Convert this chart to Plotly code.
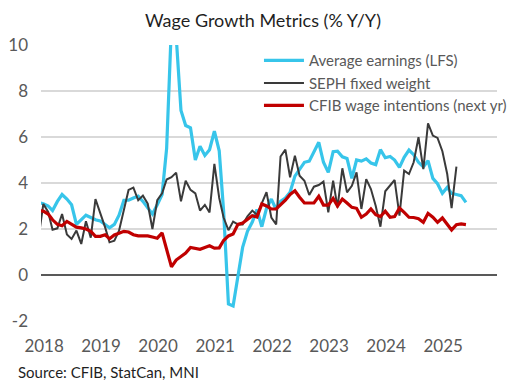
import pandas as pd
import plotly.graph_objects as go

# ---------------- data ----------------
title_text = "Wage Growth Metrics (% Y/Y)"
source_text = "Source: CFIB, StatCan, MNI"
series_names = ["Average earnings (LFS)", "SEPH fixed weight", "CFIB wage intentions (next yr)"]

first_month = "2017-12-01"   # monthly observations, plotted mid-month

lfs_earnings = [
    3.15,
    3.1, 3.0, 2.8, 3.2, 3.5, 3.3, 3.05, 2.2, 2.4, 2.6, 2.5, 2.4,
    2.35, 2.2, 2.05, 2.2, 2.6, 3.25, 3.25, 3.35, 3.43, 3.2, 2.9, 2.65,
    3.05, 3.5, 5.5, 10.9, 10.4, 7.15, 6.5, 6.4, 5.0, 5.6, 5.2, 5.45,
    6.25, 5.4, 2.8, -1.26, -1.35, -0.1, 1.2, 1.9, 2.3, 2.85, 2.1, 2.9,
    3.3, 2.85, 3.2, 3.35, 3.6, 4.3, 4.6, 4.9, 4.95, 5.35, 5.77, 4.9,
    4.46, 5.36, 5.38, 5.14, 5.07, 4.2, 5.0, 4.95, 5.05, 4.87, 4.8, 5.45,
    5.1, 5.15, 5.0, 4.68, 5.12, 5.43, 5.23, 4.9, 4.7, 4.97, 4.2, 3.97,
    3.55, 3.81, 3.55, 3.5, 3.45, 3.16,
]

seph_fixed = [
    1.6,
    3.09, 2.74, 1.97, 2.03, 2.65, 1.76, 1.57, 1.93, 1.35, 2.34, 1.62, 3.3,
    2.7, 2.07, 1.42, 1.49, 1.93, 2.9, 3.7, 3.8, 3.25, 3.45, 3.1, 2.0,
    3.25, 3.55, 4.15, 4.25, 4.45, 3.2, 4.1, 3.7, 3.55, 2.8, 3.05, 2.72,
    4.83, 3.35, 2.5, 1.95, 2.32, 2.2, 2.2, 2.55, 2.8, 2.62, 3.1, 3.6,
    2.5, 2.2, 5.15, 5.45, 4.25, 5.19, 4.32, 4.1, 3.48, 3.84, 3.91, 4.06,
    2.72, 4.1, 2.94, 4.64, 3.59, 3.88, 4.46, 2.87, 4.17, 3.74, 3.0, 2.1,
    3.64, 3.88, 4.13, 2.58, 4.54, 4.39, 4.9, 5.99, 4.6, 6.59, 6.06, 5.96,
    5.38, 4.39, 2.91, 4.71,
]

cfib_intentions = [
    2.8,
    2.78, 2.65, 2.4, 2.2, 2.14, 2.33, 2.2, 2.08, 2.05, 2.0, 1.9, 1.68,
    1.68, 1.75, 1.58, 1.74, 1.82, 1.9, 1.87, 1.75, 1.7, 1.7, 1.7, 1.65,
    1.6, 1.83, 1.1, 0.35, 0.65, 0.8, 0.95, 1.2, 1.15, 1.12, 1.2, 1.27,
    1.17, 1.18, 1.5, 1.7, 1.78, 2.2, 2.26, 2.43, 2.58, 2.52, 3.09, 3.0,
    2.87, 2.87, 3.05, 3.25, 3.5, 3.66, 3.38, 3.13, 3.13, 3.13, 3.42, 3.04,
    3.04, 3.33, 3.0, 3.3, 3.13, 2.94, 2.9, 2.51, 2.65, 2.87, 2.62, 2.54,
    2.77, 2.51, 2.54, 2.91, 2.72, 2.51, 2.5, 2.45, 2.29, 2.68, 2.51, 2.29,
    2.48, 2.19, 1.96, 2.19, 2.22, 2.19,
]

year_ticks = [2018, 2019, 2020, 2021, 2022, 2023, 2024, 2025]
y_ticks = [-2, 0, 2, 4, 6, 8, 10]
y_tick_labels = ["-2", "0", "2", "4", "6", "8", "10"]

# ---------------- styling ----------------
colors = ["#37C5EA", "#3A3A3A", "#C00000"]
widths = [3.2, 2.0, 3.2]
FONT = "Lato, 'Open Sans', sans-serif"
GREY = "#595959"

# the page body adds an 8px offset, so the figure is sized to fill the rest
W, H = 513, 379
L, R, T, B = 33, 24, 37, 66
PW, PH = W - L - R, H - T - B


def month_dates(n):
    return pd.date_range(first_month, periods=n, freq="MS") + pd.Timedelta(days=15)


fig = go.Figure()
for name, vals, col, w in zip(series_names,
                               [lfs_earnings, seph_fixed, cfib_intentions],
                               colors, widths):
    fig.add_trace(go.Scatter(
        x=month_dates(len(vals)), y=vals, name=name, mode="lines",
        line=dict(color=col, width=w), hoverinfo="skip",
    ))

fig.update_layout(
    width=W, height=H,
    margin=dict(l=L, r=R, t=T, b=B, autoexpand=False),
    paper_bgcolor="white", plot_bgcolor="white",
    font=dict(family=FONT, size=15, color=GREY),
    title=dict(text=title_text, x=255 / W, xanchor="center", xref="container",
               y=1 - 13 / H, yanchor="middle", yref="container",
               font=dict(family=FONT, size=18, color="#1F1F1F")),
    showlegend=True,
    legend=dict(x=0.478, xanchor="left", y=1.003, yanchor="top",
                bgcolor="rgba(0,0,0,0)", font=dict(size=15, color=GREY),
                itemwidth=40, tracegroupgap=0),
)

fig.update_xaxes(
    range=["2018-01-01", "2026-01-01"],
    tickvals=[f"{y}-01-21" for y in year_ticks],
    ticktext=[str(y) for y in year_ticks],
    showgrid=False, zeroline=False, showline=False, ticks="",
    tickfont=dict(size=17, color=GREY), ticklabelstandoff=13,
    automargin=False,
)
fig.update_yaxes(
    range=[-2, 10], tickvals=y_ticks, ticktext=y_tick_labels,
    showgrid=True, gridcolor="#D9D9D9", gridwidth=1.5,
    zeroline=True, zerolinecolor=GREY, zerolinewidth=2,
    showline=False, ticks="", tickfont=dict(size=17, color=GREY),
    ticklabelstandoff=12, automargin=False,
)

fig.add_annotation(text=source_text, xref="paper", yref="paper",
                   x=(8 - L) / PW, y=-(364 - (H - B)) / PH,
                   xanchor="left", yanchor="middle", showarrow=False,
                   font=dict(family=FONT, size=15, color="#1F1F1F"))

fig.write_html("out.html")
